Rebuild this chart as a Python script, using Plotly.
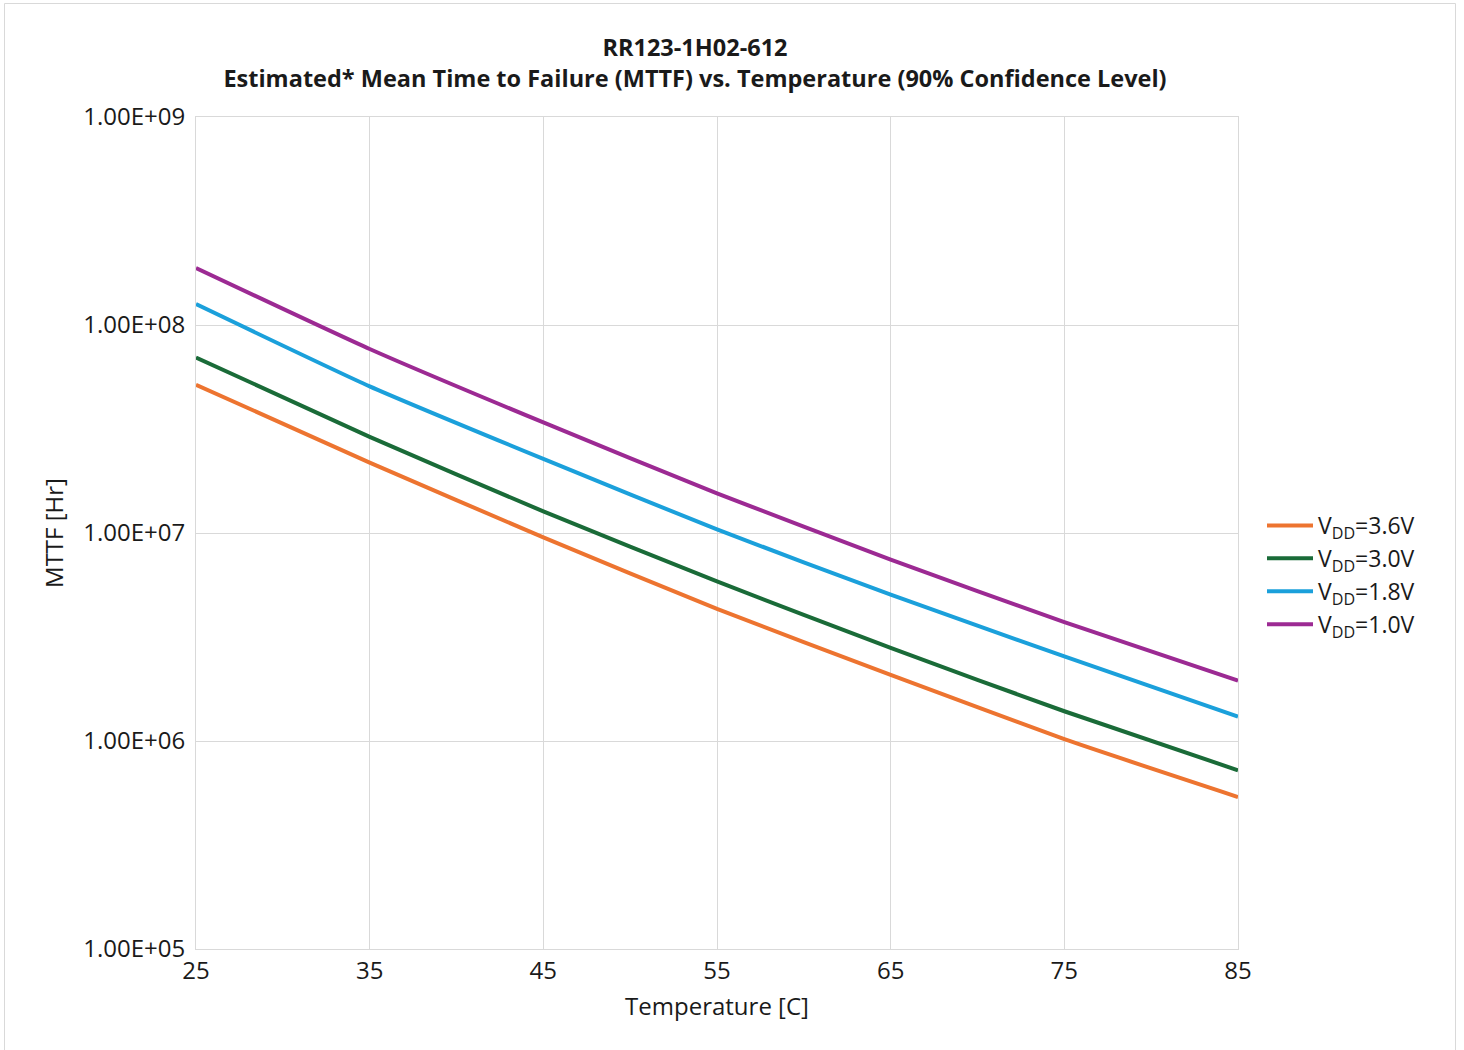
import plotly.graph_objects as go

temperature_c = [25, 35, 45, 55, 65, 75, 85]
mttf_vdd_3_6 = [5.16e7, 2.18e7, 9.53e6, 4.32e6, 2.08e6, 1.02e6, 5.38e5]
mttf_vdd_3_0 = [6.98e7, 2.90e7, 1.27e7, 5.85e6, 2.80e6, 1.39e6, 7.23e5]
mttf_vdd_1_8 = [1.26e8, 5.07e7, 2.27e7, 1.04e7, 5.05e6, 2.55e6, 1.31e6]
mttf_vdd_1_0 = [1.88e8, 7.67e7, 3.40e7, 1.55e7, 7.45e6, 3.73e6, 1.95e6]

series_names = ["V<sub>DD</sub>=3.6V", "V<sub>DD</sub>=3.0V",
                "V<sub>DD</sub>=1.8V", "V<sub>DD</sub>=1.0V"]
series_values = [mttf_vdd_3_6, mttf_vdd_3_0, mttf_vdd_1_8, mttf_vdd_1_0]
series_colors = ["#ED7430", "#1A6B38", "#1BA0DB", "#9C2A93"]

y_tickvals = [1e5, 1e6, 1e7, 1e8, 1e9]
y_ticktext = ["1.00E+05", "1.00E+06", "1.00E+07", "1.00E+08", "1.00E+09"]
x_tickvals = [25, 35, 45, 55, 65, 75, 85]

FONT = "Open Sans"
fig = go.Figure()
for name, vals, col in zip(series_names, series_values, series_colors):
    fig.add_trace(go.Scatter(x=temperature_c, y=vals, mode="lines", name=name,
                             line=dict(color=col, width=4, shape="spline", smoothing=0.5)))

W, H = 1464, 1050
L, R, T, B = 196, 1238, 117, 949
pw, ph = R - L, B - T

def px_x(p):
    return (p - L) / pw

def px_y(p):
    return (B - p) / ph

fig.update_layout(
    width=W, height=H,
    margin=dict(l=L, r=W - R, t=T, b=H - B, pad=0),
    paper_bgcolor="white", plot_bgcolor="white",
    font=dict(family=FONT, color="#1a1a1a", size=24),
    title=dict(text="<b>RR123-1H02-612</b><br><b>Estimated* Mean Time to Failure (MTTF) vs. Temperature (90% Confidence Level)</b>",
               x=695 / W, xanchor="center", y=1 - 56 / H, yanchor="middle",
               font=dict(family=FONT, size=23.5, color="#1a1a1a")),
    xaxis=dict(range=[25, 85], tickvals=x_tickvals, ticks="", showgrid=True,
               gridcolor="#d9d9d9", gridwidth=1, showline=True, linecolor="#d9d9d9",
               mirror=True, zeroline=False, tickfont=dict(size=24),
               title=dict(text="Temperature [C]", font=dict(size=24), standoff=13)),
    yaxis=dict(type="log", range=[5, 9], tickvals=y_tickvals, ticktext=y_ticktext,
               ticks="", showgrid=True, gridcolor="#d9d9d9", gridwidth=1,
               showline=True, linecolor="#d9d9d9", mirror=True, zeroline=False,
               tickfont=dict(size=24), ticklabelstandoff=5,
               title=dict(text="MTTF [Hr]", font=dict(size=24), standoff=12)),
    legend=dict(x=px_x(1262), xanchor="left", y=px_y(575), yanchor="middle",
                font=dict(size=23), bgcolor="rgba(0,0,0,0)", tracegroupgap=0,
                itemwidth=46),
    showlegend=True,
)

fig.add_shape(type="rect", xref="paper", yref="paper",
              x0=px_x(4.5), x1=px_x(1455.5), y0=px_y(1070), y1=px_y(3.5),
              line=dict(color="#d9d9d9", width=1), fillcolor="rgba(0,0,0,0)", layer="below")

fig.write_html("out.html", config={"displayModeBar": False},
               post_script="document.body.style.margin='0';document.body.style.padding='0';")
